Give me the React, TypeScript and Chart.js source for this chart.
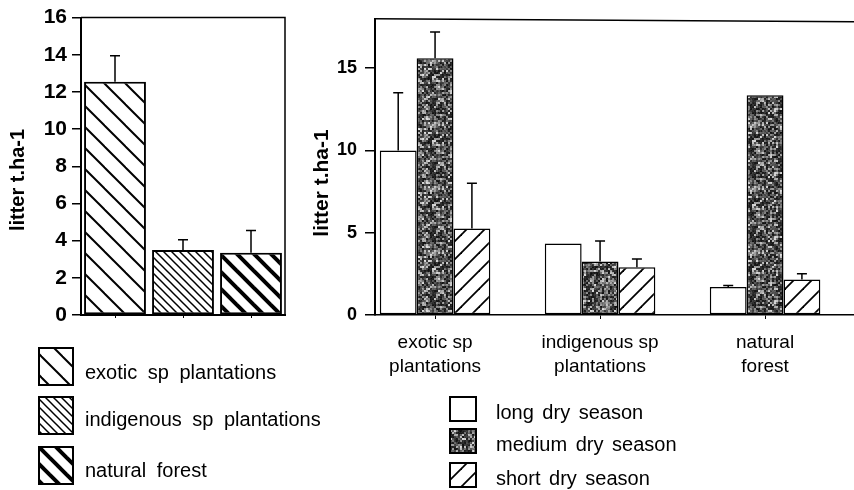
import React, { useEffect, useRef } from 'react';
import { Chart, registerables } from 'chart.js';

Chart.register(...registerables);

// ---------- data ----------
const leftCategories = ['exotic sp plantations', 'indigenous sp plantations', 'natural forest'];
const leftValues = [12.55, 3.5, 3.35];
const leftErrors = [1.4, 0.55, 1.2];
const leftAxisTitle = 'litter t.ha-1';

const rightCategories = [
  ['exotic sp', 'plantations'],
  ['indigenous sp', 'plantations'],
  ['natural', 'forest'],
];
const seriesNames = ['long dry season', 'medium dry season', 'short dry season'];
const longDry = [10.0, 4.35, 1.7];
const mediumDry = [15.6, 3.25, 13.35];
const shortDry = [5.25, 2.9, 2.15];
const longDryErr = [3.5, 0, 0.1];
const mediumDryErr = [1.6, 1.25, 0];
const shortDryErr = [2.75, 0.5, 0.35];
const rightAxisTitle = 'litter t.ha-1';

const FONT = '"Liberation Sans", Arial, Helvetica, sans-serif';

// ---------- patterns ----------
function linePattern(s: number, lw: number, dir: 'back' | 'fwd'): CanvasPattern {
  const c = document.createElement('canvas');
  c.width = s;
  c.height = s;
  const g = c.getContext('2d')!;
  g.fillStyle = '#fff';
  g.fillRect(0, 0, s, s);
  g.strokeStyle = '#000';
  g.lineWidth = lw;
  for (let k = -2; k <= 2; k++) {
    g.beginPath();
    if (dir === 'back') {
      g.moveTo(k * s - s, -s);
      g.lineTo(k * s + 2 * s, 2 * s);
    } else {
      g.moveTo(k * s - s, 2 * s);
      g.lineTo(k * s + 2 * s, -s);
    }
    g.stroke();
  }
  return g.createPattern(c, 'repeat')!;
}

function noisePattern(): CanvasPattern {
  const n = 64;
  const c = document.createElement('canvas');
  c.width = n;
  c.height = n;
  const g = c.getContext('2d')!;
  const img = g.createImageData(n, n);
  for (let y = 0; y < n; y++) {
    for (let x = 0; x < n; x++) {
      const bx = Math.floor(x / 2);
      const by = Math.floor(y / 2);
      const h = Math.abs(Math.sin(bx * 12.9898 + by * 78.233) * 43758.5453) % 1;
      const h2 = Math.abs(Math.sin(x * 4.1414 + y * 9.7171) * 1753.31) % 1;
      const v = Math.round(12 + Math.pow(h, 1.8) * 190 + h2 * 30);
      const i = (y * n + x) * 4;
      img.data[i] = v;
      img.data[i + 1] = v;
      img.data[i + 2] = v;
      img.data[i + 3] = 255;
    }
  }
  g.putImageData(img, 0, 0);
  return g.createPattern(c, 'repeat')!;
}

// ---------- plugins ----------
const errorBars = {
  id: 'errorBars',
  afterDatasetsDraw(chart: any) {
    const ctx = chart.ctx;
    const yScale = chart.scales.y;
    chart.data.datasets.forEach((ds: any, di: number) => {
      const errs = ds.errors as number[] | undefined;
      if (!errs) return;
      const meta = chart.getDatasetMeta(di);
      meta.data.forEach((bar: any, i: number) => {
        const e = errs[i];
        if (!e) return;
        const raw = ds.data[i];
        const val = typeof raw === 'number' ? raw : raw.y;
        const yTop = yScale.getPixelForValue(val + e);
        ctx.save();
        ctx.strokeStyle = '#000';
        ctx.lineWidth = 1.5;
        ctx.beginPath();
        ctx.moveTo(bar.x, bar.y);
        ctx.lineTo(bar.x, yTop);
        ctx.moveTo(bar.x - 5, yTop);
        ctx.lineTo(bar.x + 5, yTop);
        ctx.stroke();
        ctx.restore();
      });
    });
  },
};

type LegendSpec = {
  items: { label: string; fill: CanvasPattern | string }[];
  boxX: number;
  boxW: number;
  boxH: number;
  boxY: number[];
  textX: number;
  textY: number[];
  font: string;
  wordSpacing: string;
};

function makeDecor(opts: {
  frame: 'box' | 'top';
  title: { text: string; x: number; y: number; font: string };
  legend: LegendSpec;
}) {
  return {
    id: 'decor',
    afterDraw(chart: any) {
      const ctx = chart.ctx as any;
      const a = chart.chartArea;
      ctx.save();
      ctx.strokeStyle = '#000';
      ctx.lineWidth = 1.5;
      ctx.beginPath();
      if (opts.frame === 'box') {
        ctx.moveTo(a.left, a.top);
        ctx.lineTo(a.right, a.top);
        ctx.lineTo(a.right, a.bottom);
      } else {
        ctx.moveTo(a.left, a.top);
        ctx.lineTo(chart.width, a.top + 3);
      }
      ctx.stroke();

      // y title
      ctx.fillStyle = '#000';
      ctx.font = opts.title.font;
      ctx.textAlign = 'center';
      ctx.textBaseline = 'middle';
      ctx.translate(opts.title.x, opts.title.y);
      ctx.rotate(-Math.PI / 2);
      ctx.fillText(opts.title.text, 0, 0);
      ctx.setTransform(1, 0, 0, 1, 0, 0);

      // legend
      const L = opts.legend;
      L.items.forEach((it, i) => {
        ctx.fillStyle = it.fill as any;
        ctx.fillRect(L.boxX, L.boxY[i], L.boxW, L.boxH);
        ctx.lineWidth = 2;
        ctx.strokeStyle = '#000';
        ctx.strokeRect(L.boxX, L.boxY[i], L.boxW, L.boxH);
        ctx.fillStyle = '#000';
        ctx.font = L.font;
        if ('wordSpacing' in ctx) ctx.wordSpacing = L.wordSpacing;
        ctx.textAlign = 'left';
        ctx.textBaseline = 'middle';
        ctx.fillText(it.label, L.textX, L.textY[i]);
      });
      ctx.restore();
    },
  };
}

export default function App() {
  const leftRef = useRef<HTMLCanvasElement>(null);
  const rightRef = useRef<HTMLCanvasElement>(null);

  useEffect(() => {
    document.body.style.margin = '0';
    Chart.defaults.font.family = FONT;
    Chart.defaults.color = '#000';

    const pExotic = linePattern(21, 2, 'back');
    const pIndig = linePattern(8, 1.5, 'back');
    const pNatural = linePattern(17, 4, 'back');
    const pShort = linePattern(18, 1.8, 'fwd');
    const pMedium = noisePattern();
    const leftFills = [pExotic, pIndig, pNatural];

    const left = new Chart(leftRef.current!, {
      type: 'bar',
      data: {
        labels: leftCategories,
        datasets: [
          {
            data: leftValues,
            errors: leftErrors,
            backgroundColor: leftFills,
            borderColor: '#000',
            borderWidth: 2,
            borderSkipped: false,
            barPercentage: 0.91,
            categoryPercentage: 1,
          } as any,
        ],
      },
      options: {
        responsive: false,
        animation: false,
        layout: { padding: { top: 15, right: 75, left: 0, bottom: 0 } },
        plugins: { legend: { display: false }, tooltip: { enabled: false } },
        scales: {
          x: {
            offset: true,
            grid: { display: true, drawOnChartArea: false, offset: false, tickLength: 3, color: '#000', lineWidth: 1 },
            border: { display: true, color: '#000', width: 2 },
            ticks: { display: false },
            afterFit: (s: any) => {
              s.height = 175;
            },
          },
          y: {
            min: 0,
            max: 16,
            ticks: { stepSize: 2, padding: 5, font: { size: 21, weight: 'bold' }, color: '#000' },
            grid: { drawOnChartArea: false, tickLength: 9, color: '#000', lineWidth: 1.5 },
            border: { display: true, color: '#000', width: 2 },
            afterFit: (s: any) => {
              s.width = 81;
            },
          },
        },
      },
      plugins: [
        errorBars,
        makeDecor({
          frame: 'box',
          title: { text: leftAxisTitle, x: 18, y: 180, font: `bold 20px ${FONT}` },
          legend: {
            items: leftCategories.map((l, i) => ({ label: l, fill: leftFills[i] })),
            boxX: 39,
            boxW: 34,
            boxH: 37,
            boxY: [348, 397, 447],
            textX: 85,
            textY: [373, 420, 471],
            font: `20px ${FONT}`,
            wordSpacing: '5px',
          },
        }),
      ],
    } as any);

    const rightFills = ['#ffffff', pMedium, pShort];
    const seriesValues = [longDry, mediumDry, shortDry];
    const seriesErrors = [longDryErr, mediumDryErr, shortDryErr];

    const right = new Chart(rightRef.current!, {
      type: 'bar',
      data: {
        datasets: seriesNames.map((name, si) => ({
          label: name,
          data: seriesValues[si].map((v, i) => ({ x: i + 1, y: v })),
          errors: seriesErrors[si],
          backgroundColor: rightFills[si],
          borderColor: '#000',
          borderWidth: 1.5,
          borderSkipped: false,
          barPercentage: 1,
          categoryPercentage: 0.67,
        })) as any,
      },
      options: {
        responsive: false,
        animation: false,
        layout: { padding: { top: 16, right: 0, left: 0, bottom: 0 } },
        plugins: { legend: { display: false }, tooltip: { enabled: false } },
        scales: {
          x: {
            type: 'linear',
            min: 0.636,
            max: 3.539,
            offset: false,
            grid: { display: true, drawOnChartArea: false, offset: false, tickLength: 4, color: '#000', lineWidth: 1 },
            border: { display: true, color: '#000', width: 1.5 },
            afterBuildTicks: (s: any) => {
              s.ticks = rightCategories.map((_, i) => ({ value: i + 1 }));
            },
            ticks: {
              autoSkip: false,
              maxRotation: 0,
              padding: 12,
              font: { size: 19, lineHeight: 1.26 },
              color: '#000',
              callback: (v: any) => rightCategories[Math.round(v) - 1] as any,
            },
            afterFit: (s: any) => {
              s.height = 175;
            },
          },
          y: {
            min: 0,
            max: 18,
            ticks: { stepSize: 5, includeBounds: false, padding: 8, font: { size: 18, weight: 'bold' }, color: '#000' },
            grid: { drawOnChartArea: false, tickLength: 10, color: '#000', lineWidth: 1.5 },
            border: { display: true, color: '#000', width: 2 },
            afterFit: (s: any) => {
              s.width = 75;
            },
          },
        },
      },
      plugins: [
        errorBars,
        makeDecor({
          frame: 'top',
          title: { text: rightAxisTitle, x: 22, y: 183, font: `bold 21px ${FONT}` },
          legend: {
            items: seriesNames.map((l, i) => ({ label: l, fill: rightFills[i] })),
            boxX: 150,
            boxW: 26,
            boxH: 24,
            boxY: [397, 429, 463],
            textX: 196,
            textY: [413, 445, 479],
            font: `20px ${FONT}`,
            wordSpacing: '3px',
          },
        }),
      ],
    } as any);

    return () => {
      left.destroy();
      right.destroy();
    };
  }, []);

  return (
    <div style={{ position: 'fixed', left: 0, top: 0, width: 854, height: 490, background: '#fff' }}>
      <canvas ref={rightRef} width={554} height={490} style={{ position: 'absolute', left: 300, top: 0 }} />
      <canvas ref={leftRef} width={360} height={490} style={{ position: 'absolute', left: 0, top: 0 }} />
    </div>
  );
}
